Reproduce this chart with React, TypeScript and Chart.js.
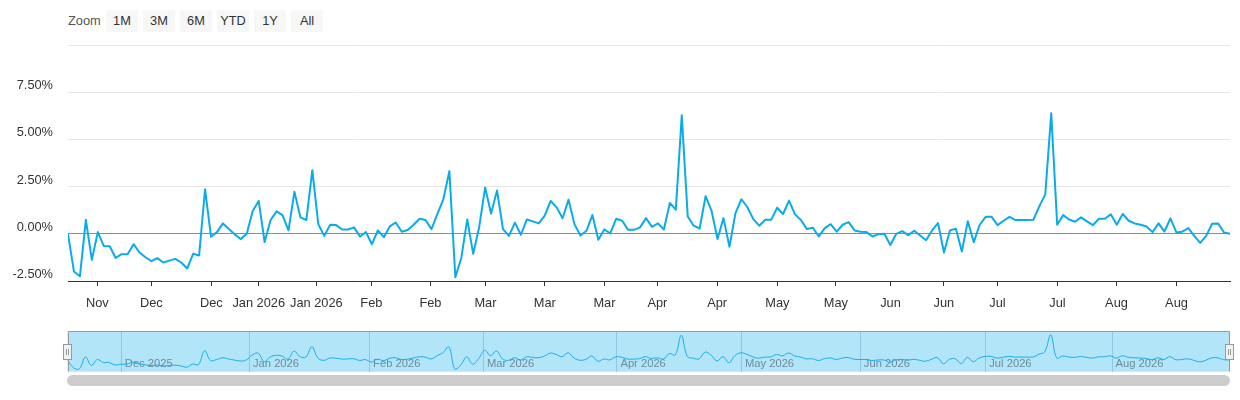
import React, { useEffect, useRef } from "react";
import { Chart, registerables } from "chart.js";

Chart.register(...registerables);

// ---- data (daily % change) ----
const returnsPct: number[] = [
  0.0, -2.0, -2.25, 0.74, -1.38, 0.09, -0.64, -0.66, -1.28, -1.08,
  -1.08, -0.55, -0.99, -1.24, -1.45, -1.29, -1.52, -1.42, -1.33, -1.52,
  -1.84, -1.06, -1.15, 2.36, -0.16, 0.09, 0.55, 0.25, -0.04, -0.28,
  0.0, 1.21, 1.74, -0.44, 0.73, 1.19, 0.99, 0.18, 2.23, 0.87,
  0.73, 3.37, 0.51, -0.11, 0.48, 0.46, 0.23, 0.23, 0.34, -0.14,
  0.09, -0.55, 0.18, -0.18, 0.39, 0.6, 0.11, 0.2, 0.48, 0.8,
  0.73, 0.25, 1.06, 1.84, 3.32, -2.3, -1.28, 0.76, -1.06, 0.35,
  2.45, 1.08, 2.29, 0.25, -0.11, 0.59, -0.05, 0.76, 0.66, 0.55,
  0.96, 1.74, 1.4, 0.82, 1.81, 0.5, -0.09, 0.16, 0.99, -0.32,
  0.23, 0.02, 0.8, 0.69, 0.21, 0.21, 0.34, 0.83, 0.37, 0.55,
  0.23, 1.63, 1.28, 6.28, 0.92, 0.43, 0.28, 1.99, 1.21, -0.28,
  0.83, -0.69, 1.08, 1.83, 1.42, 0.78, 0.43, 0.74, 0.74, 1.38,
  1.05, 1.76, 1.03, 0.73, 0.25, 0.32, -0.14, 0.3, 0.51, 0.11,
  0.48, 0.62, 0.18, 0.11, 0.09, -0.14, -0.02, 0.0, -0.59, 0.0,
  0.14, -0.07, 0.16, -0.09, -0.34, 0.18, 0.57, -0.99, 0.18, 0.27,
  -0.94, 0.67, -0.44, 0.48, 0.9, 0.9, 0.46, 0.69, 0.9, 0.73,
  0.73, 0.73, 0.74, 1.45, 2.09, 6.38, 0.48, 0.99, 0.76, 0.64,
  0.87, 0.66, 0.46, 0.8, 0.8, 1.03, 0.48, 1.05, 0.69, 0.55,
  0.48, 0.39, 0.09, 0.55, 0.12, 0.82, 0.07, 0.11, 0.3, -0.11,
  -0.48, -0.11, 0.53, 0.55, 0.07, 0.0,
];

const yTickValues: number[] = [-2.5, 0, 2.5, 5, 7.5, 10];
const xTickPositions: number[] = [
  4.92, 13.98, 24.05, 32.01, 41.67, 50.91, 60.82, 70.05, 80.01, 90.02,
  98.91, 108.93, 119.05, 128.85, 138.02, 146.98, 155.97, 166.04, 175.95, 186.02,
];
const xTickLabels: string[] = [
  "Nov", "Dec", "Dec", "Jan 2026", "Jan 2026", "Feb", "Feb", "Mar", "Mar", "Mar",
  "Apr", "Apr", "May", "May", "Jun", "Jun", "Jul", "Jul", "Aug", "Aug",
];
const navMonthPositions: number[] = [9.03, 30.54, 50.7, 69.8, 92.2, 113.1, 133.05, 154.1, 175.3];
const navMonthLabels: string[] = [
  "Dec 2025", "Jan 2026", "Feb 2026", "Mar 2026", "Apr 2026", "May 2026", "Jun 2026", "Jul 2026", "Aug 2026",
];
const zoomButtons: string[] = ["1M", "3M", "6M", "YTD", "1Y", "All"];

const LINE_COLOR = "#0aabeb";
const FONT = '"Liberation Sans", Arial, Helvetica, sans-serif';

export default function App() {
  const mainRef = useRef<HTMLCanvasElement | null>(null);
  const navRef = useRef<HTMLCanvasElement | null>(null);

  useEffect(() => {
    Chart.defaults.font.family = FONT;
    const points = returnsPct.map((v, i) => ({ x: i, y: v }));
    const last = returnsPct.length - 1;

    const main = new Chart(mainRef.current as HTMLCanvasElement, {
      type: "line",
      data: {
        datasets: [
          {
            data: points,
            borderColor: LINE_COLOR,
            borderWidth: 2,
            pointRadius: 0,
            tension: 0,
            fill: false,
            borderJoinStyle: "round",
            borderCapStyle: "round",
          },
        ],
      },
      options: {
        animation: false,
        responsive: false,
        maintainAspectRatio: false,
        layout: { padding: { top: 45, right: 10, left: 0, bottom: 0 } },
        plugins: { legend: { display: false }, tooltip: { enabled: false } },
        scales: {
          x: {
            type: "linear",
            min: 0,
            max: last,
            afterBuildTicks: (s: any) => {
              s.ticks = xTickPositions.map((v) => ({ value: v }));
            },
            afterFit: (s: any) => {
              s.height = 39;
            },
            ticks: {
              autoSkip: false,
              maxRotation: 0,
              padding: 10,
              color: "#333333",
              font: { size: 12.8, family: FONT },
              callback: (_v: any, i: number) => xTickLabels[i],
            },
            grid: { drawOnChartArea: false, drawTicks: true, tickLength: 5, color: "#333333", lineWidth: 1 },
            border: { display: true, color: "#333333", width: 1 },
          },
          y: {
            min: -2.5,
            max: 10,
            afterBuildTicks: (s: any) => {
              s.ticks = yTickValues.map((v) => ({ value: v }));
            },
            afterFit: (s: any) => {
              s.width = 68;
            },
            ticks: {
              padding: 15,
              labelOffset: -6.5,
              color: "#333333",
              font: { size: 12.8, family: FONT },
              callback: (v: any) => (Number(v) === 10 ? "" : Number(v).toFixed(2) + "%"),
            },
            grid: {
              drawTicks: false,
              lineWidth: 1,
              color: (ctx: any) =>
                ctx.tick && ctx.tick.value === 0
                  ? "#8c8c8c"
                  : ctx.tick && ctx.tick.value === -2.5
                  ? "rgba(0,0,0,0)"
                  : "#e6e6e6",
            },
            border: { display: false },
          },
        },
      },
    } as any);

    const navBg = {
      id: "navBg",
      beforeDraw(chart: any) {
        const { ctx, chartArea: a } = chart;
        ctx.save();
        ctx.fillStyle = "#b2e5f8";
        ctx.fillRect(a.left, a.top, a.right - a.left, a.bottom - a.top);
        ctx.restore();
      },
      afterDraw(chart: any) {
        const { ctx, chartArea: a } = chart;
        ctx.save();
        ctx.strokeStyle = "#999999";
        ctx.lineWidth = 1;
        ctx.beginPath();
        ctx.moveTo(Math.round(a.left) + 0.5, a.bottom);
        ctx.lineTo(Math.round(a.left) + 0.5, Math.round(a.top) + 0.5);
        ctx.lineTo(Math.round(a.right) - 0.5, Math.round(a.top) + 0.5);
        ctx.lineTo(Math.round(a.right) - 0.5, a.bottom);
        ctx.stroke();
        ctx.restore();
      },
    };

    const nav = new Chart(navRef.current as HTMLCanvasElement, {
      type: "line",
      data: {
        datasets: [
          {
            data: points,
            borderColor: "#1aaeea",
            borderWidth: 1,
            pointRadius: 0,
            tension: 0.4,
            fill: false,
          },
        ],
      },
      options: {
        animation: false,
        responsive: false,
        maintainAspectRatio: false,
        layout: { padding: { top: 11.3, right: 10.5, left: 67.5, bottom: 0 } },
        plugins: { legend: { display: false }, tooltip: { enabled: false } },
        scales: {
          x: {
            type: "linear",
            min: 0,
            max: last,
            afterBuildTicks: (s: any) => {
              s.ticks = navMonthPositions.map((v) => ({ value: v }));
            },
            afterFit: (s: any) => {
              s.height = 8.3;
            },
            ticks: {
              autoSkip: false,
              maxRotation: 0,
              align: "start",
              mirror: true,
              labelOffset: 3.5,
              padding: 0.7,
              color: "#6f8a9a",
              font: { size: 11.2, family: FONT },
              callback: (_v: any, i: number) => navMonthLabels[i],
            },
            grid: { drawOnChartArea: true, drawTicks: false, color: "rgba(100,165,195,0.45)", lineWidth: 1 },
            border: { display: false },
          },
          y: { display: false, min: -3.0, max: 7.3 },
        },
      },
      plugins: [navBg],
    } as any);

    return () => {
      main.destroy();
      nav.destroy();
    };
  }, []);

  const handleStyle = (left: number): React.CSSProperties => ({
    position: "absolute",
    left,
    top: 344,
    width: 7,
    height: 14,
    background: "#f2f2f2",
    border: "1px solid #999999",
    boxSizing: "content-box",
  });
  const gripStyle = (left: number): React.CSSProperties => ({
    position: "absolute",
    left,
    top: 4,
    width: 1,
    height: 6,
    background: "#999999",
  });

  return (
    <div
      style={{
        position: "absolute",
        left: 0,
        top: 0,
        width: 1240,
        height: 400,
        background: "#ffffff",
        fontFamily: FONT,
        overflow: "hidden",
      }}
    >
      <div
        style={{
          position: "absolute",
          left: 68,
          top: 10,
          height: 22,
          lineHeight: "22px",
          fontSize: 12.8,
          color: "#555555",
        }}
      >
        Zoom
      </div>
      {zoomButtons.map((b, i) => (
        <div
          key={b}
          style={{
            position: "absolute",
            left: 106 + i * 37,
            top: 10,
            width: 32,
            height: 22,
            lineHeight: "22px",
            textAlign: "center",
            fontSize: 12.8,
            color: "#333333",
            background: "#f7f7f7",
            borderRadius: 2,
          }}
        >
          {b}
        </div>
      ))}
      <canvas
        ref={mainRef}
        width={1240}
        height={320}
        style={{ position: "absolute", left: 0, top: 0, width: 1240, height: 320 }}
      />
      <canvas
        ref={navRef}
        width={1240}
        height={60}
        style={{ position: "absolute", left: 0, top: 320, width: 1240, height: 60 }}
      />
      <div style={handleStyle(63)}>
        <div style={gripStyle(2)} />
        <div style={gripStyle(4)} />
      </div>
      <div style={handleStyle(1225)}>
        <div style={gripStyle(2)} />
        <div style={gripStyle(4)} />
      </div>
      <div
        style={{
          position: "absolute",
          left: 67,
          top: 375,
          width: 1163,
          height: 11,
          borderRadius: 6,
          background: "#cccccc",
        }}
      />
    </div>
  );
}
